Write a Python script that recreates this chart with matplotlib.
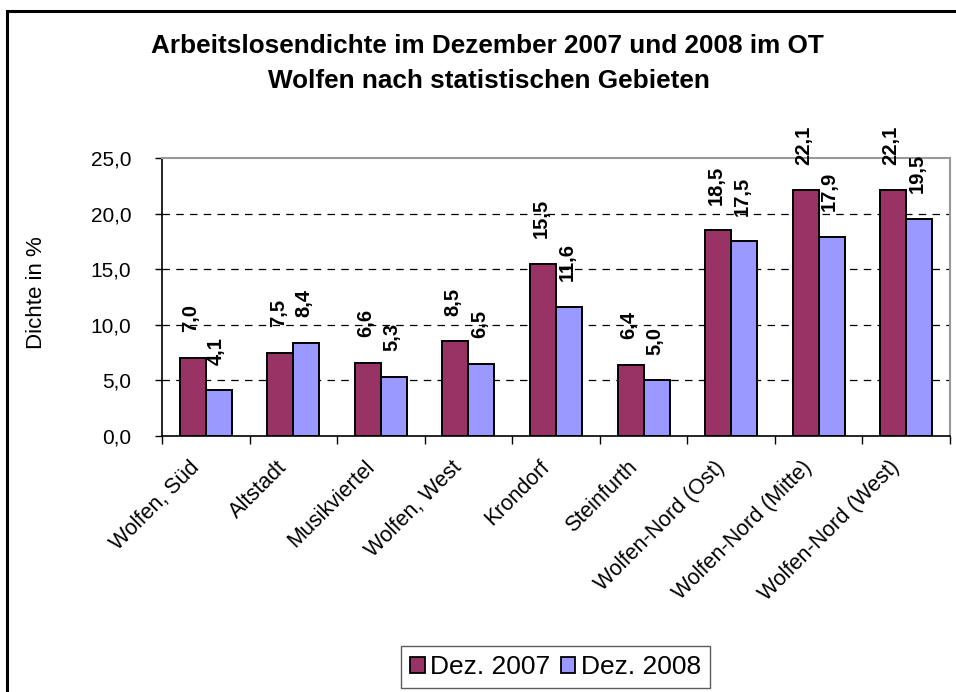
import matplotlib
matplotlib.use("Agg")
import matplotlib.pyplot as plt
import matplotlib.transforms as mtransforms
from matplotlib.patches import Patch, Rectangle
from matplotlib.ticker import FixedLocator, FuncFormatter
import numpy as np

plt.rcParams['font.family'] = ['Liberation Sans', 'DejaVu Sans']

# Daten
gebiete = ['Wolfen, Süd', 'Altstadt', 'Musikviertel', 'Wolfen, West', 'Krondorf',
           'Steinfurth', 'Wolfen-Nord (Ost)', 'Wolfen-Nord (Mitte)', 'Wolfen-Nord (West)']
dez_2007 = [7.0, 7.5, 6.6, 8.5, 15.5, 6.4, 18.5, 22.1, 22.1]
dez_2008 = [4.1, 8.4, 5.3, 6.5, 11.6, 5.0, 17.5, 17.9, 19.5]
serien = ['Dez. 2007', 'Dez. 2008']
farben = ['#993366', '#9999FF']

W, H = 956, 692
fig = plt.figure(figsize=(W / 100, H / 100), dpi=100)

# Plotbereich (Pixel aus der Vorlage)
left, right, top, bottom = 162, 950, 158, 436
ax = fig.add_axes([left / W, 1 - bottom / H, (right - left) / W, (bottom - top) / H])

x = np.arange(len(gebiete))
bw = 0.297
for i, (werte, farbe) in enumerate(zip([dez_2007, dez_2008], farben)):
    pos = x + (i - 0.5) * bw
    ax.bar(pos, werte, width=bw, color=farbe, edgecolor='black', linewidth=1.4, zorder=3)
    for px, v in zip(pos, werte):
        ax.annotate(f'{v:.1f}'.replace('.', ','), (px, v), xytext=(-1.5, 18.5),
                    textcoords='offset points', rotation=90, ha='center', va='bottom',
                    fontsize=14.5, fontweight='bold', annotation_clip=False)

ax.set_xlim(-0.5, len(gebiete) - 0.5)
ax.set_ylim(0, 25)
ax.set_yticks(np.arange(0, 26, 5))
ax.yaxis.set_major_formatter(FuncFormatter(lambda v, p: f'{v:.1f}'.replace('.', ',')))
ax.tick_params(axis='y', direction='out', length=5, width=1, pad=17, labelsize=15)

ax.set_xticks(x)
ax.set_xticklabels(gebiete, rotation=45, ha='right', rotation_mode='anchor', fontsize=15.5)
ax.tick_params(axis='x', which='major', length=0, pad=15)
shift = mtransforms.ScaledTranslation(-0.17, 0, fig.dpi_scale_trans)
for lab in ax.get_xticklabels():
    lab.set_transform(lab.get_transform() + shift)
ax.xaxis.set_minor_locator(FixedLocator(np.arange(-0.5, len(gebiete), 1)))
ax.tick_params(axis='x', which='minor', direction='out', length=6, width=1)

for yv in [5, 10, 15, 20]:
    ax.axhline(yv, color='black', linestyle=(0, (6, 5)), linewidth=0.9, zorder=1)

ax.spines['left'].set_color('black')
ax.spines['bottom'].set_color('black')
ax.spines['left'].set_linewidth(1.2)
ax.spines['bottom'].set_linewidth(1.2)
ax.spines['top'].set_color('#999999')
ax.spines['right'].set_color('#999999')
ax.spines['top'].set_linewidth(1.5)
ax.spines['right'].set_linewidth(1.5)

ax.set_ylabel('Dichte in %', fontsize=16)
ax.yaxis.set_label_coords((47 - left) / (right - left), (bottom - 293) / (bottom - top))

# Titel
fig.text(487 / W, 1 - 53 / H, 'Arbeitslosendichte im Dezember 2007 und 2008 im OT',
         ha='center', va='baseline', fontsize=18.8, fontweight='bold')
fig.text(489 / W, 1 - 88 / H, 'Wolfen nach statistischen Gebieten',
         ha='center', va='baseline', fontsize=18.8, fontweight='bold')

# Legende
handles = [Patch(facecolor=f, edgecolor='black', linewidth=1.3) for f in farben]
leg = fig.legend(handles, serien, loc='center', bbox_to_anchor=(555.5 / W, 1 - 667 / H),
                 ncol=2, fontsize=19, frameon=True, fancybox=False,
                 handlelength=0.55, handleheight=0.55, handletextpad=0.2,
                 columnspacing=0.4, borderpad=0.35, borderaxespad=0)
leg.get_frame().set_edgecolor('#333333')
leg.get_frame().set_linewidth(1.0)

# Rahmen
fig.patches.append(Rectangle((6.5 / W, -0.05), 1.1, (H - 10.5) / H + 0.05,
                             transform=fig.transFigure, fill=False,
                             edgecolor='black', linewidth=2.2))

fig.savefig('out.png', dpi=100)
